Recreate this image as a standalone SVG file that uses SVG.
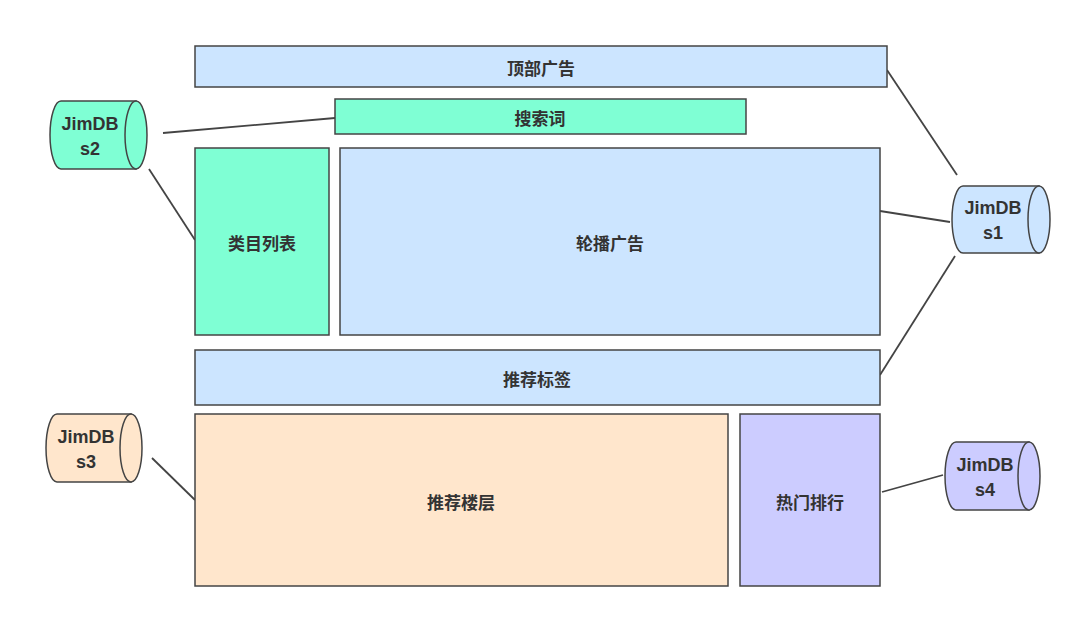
<svg xmlns="http://www.w3.org/2000/svg" width="1080" height="617" viewBox="0 0 1080 617">
<style>
.b{stroke:#444;stroke-width:1.5}
.t{font-family:"Noto Sans CJK SC","Liberation Sans",sans-serif;font-weight:bold;font-size:17px;fill:#333;text-anchor:middle;dominant-baseline:central}
.c{font-family:"Liberation Sans",sans-serif;font-weight:bold;font-size:18px;fill:#333;text-anchor:middle}
.l{stroke:#444;stroke-width:1.8;fill:none}
.blue{fill:#cce5ff}.green{fill:#7fffd4}.peach{fill:#ffe6cc}.purple{fill:#ccccff}
</style>
<rect width="1080" height="617" fill="#fff"/>
<g id="connectors">
<line class="l" x1="163" y1="133" x2="335" y2="118"/>
<line class="l" x1="149" y1="169" x2="195" y2="240"/>
<line class="l" x1="887" y1="70" x2="957" y2="175"/>
<line class="l" x1="880" y1="211" x2="950" y2="222"/>
<line class="l" x1="880" y1="375" x2="955" y2="256"/>
<line class="l" x1="152" y1="458" x2="195" y2="500"/>
<line class="l" x1="882" y1="492" x2="943" y2="475"/>
</g>
<g id="top"><rect class="b blue" x="195" y="46" width="692" height="41"/><text class="t" x="541" y="67">顶部广告</text></g>
<g id="search"><rect class="b green" x="335" y="99" width="411" height="35"/><text class="t" x="540" y="117">搜索词</text></g>
<g id="category"><rect class="b green" x="195" y="148" width="134" height="187"/><text class="t" x="262" y="242">类目列表</text></g>
<g id="carousel"><rect class="b blue" x="340" y="148" width="540" height="187"/><text class="t" x="610" y="242">轮播广告</text></g>
<g id="tags"><rect class="b blue" x="195" y="350" width="685" height="55"/><text class="t" x="537" y="378">推荐标签</text></g>
<g id="floor"><rect class="b peach" x="195" y="414" width="533" height="172"/><text class="t" x="461" y="501">推荐楼层</text></g>
<g id="hot"><rect class="b purple" x="740" y="414" width="140" height="172"/><text class="t" x="810" y="501">热门排行</text></g>
<g id="s2"><path class="b green" d="M136,101 L61,101 A11,34 0 0 0 61,169 L136,169 Z"/><ellipse class="b green" cx="136" cy="135" rx="11" ry="34"/><text class="c" x="90" y="130">JimDB</text><text class="c" x="90" y="155">s2</text></g>
<g id="s1"><path class="b blue" d="M1039,186 L963,186 A11,33.5 0 0 0 963,253 L1039,253 Z"/><ellipse class="b blue" cx="1039" cy="219.5" rx="11" ry="33.5"/><text class="c" x="993" y="214">JimDB</text><text class="c" x="993" y="239">s1</text></g>
<g id="s3"><path class="b peach" d="M131,414 L57,414 A11,34 0 0 0 57,482 L131,482 Z"/><ellipse class="b peach" cx="131" cy="448" rx="11" ry="34"/><text class="c" x="86" y="443">JimDB</text><text class="c" x="86" y="468">s3</text></g>
<g id="s4"><path class="b purple" d="M1029,442 L956,442 A11,34 0 0 0 956,510 L1029,510 Z"/><ellipse class="b purple" cx="1029" cy="476" rx="11" ry="34"/><text class="c" x="985" y="471">JimDB</text><text class="c" x="985" y="496">s4</text></g>
</svg>
